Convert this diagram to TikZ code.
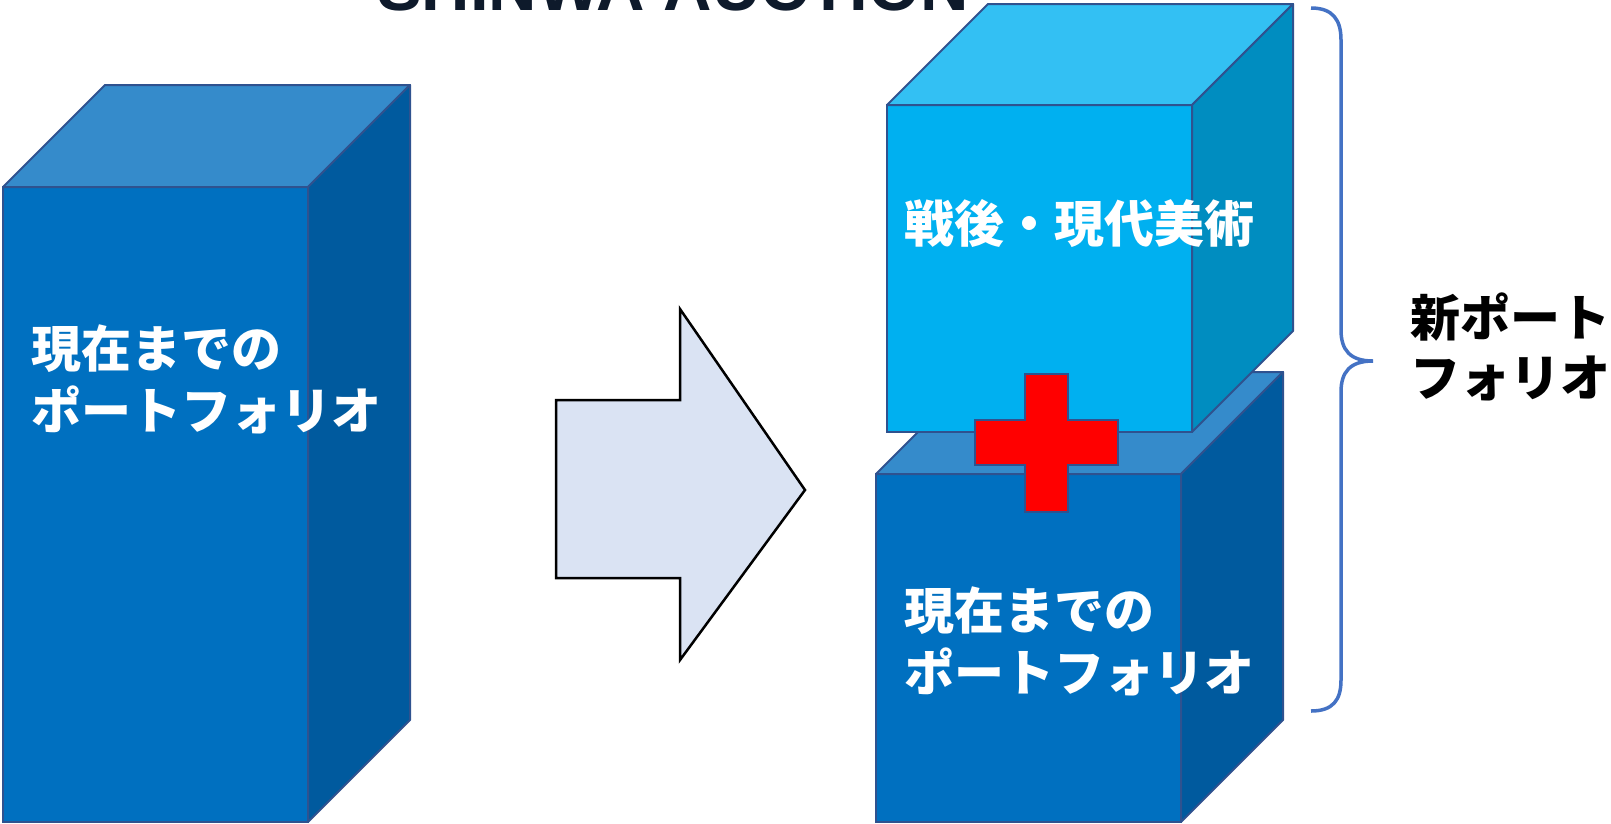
\documentclass[tikz,border=0pt]{standalone}
\usepackage{fontspec}
\newfontfamily\jp{Noto Sans CJK JP}
\newfontfamily\titlefont{Liberation Sans}
\definecolor{bord}{HTML}{2F528F}
\definecolor{dkfront}{HTML}{0070C0}
\definecolor{dktop}{HTML}{358BCB}
\definecolor{dkside}{HTML}{005A9E}
\definecolor{ltfront}{HTML}{00B0F0}
\definecolor{lttop}{HTML}{33C0F3}
\definecolor{ltside}{HTML}{008DC0}
\definecolor{arrowfill}{HTML}{DAE3F3}
\definecolor{bracecol}{HTML}{4472C4}
\definecolor{titlecol}{HTML}{0E1A2B}
\newcommand\mycube[8]{%
  \filldraw[fill=#6,draw=bord,line width=2pt] (#1,#2) rectangle ++(#3,#4);
  \filldraw[fill=#7,draw=bord,line width=2pt,line join=round] (#1,#2) -- ++(#5,-#5) -- ++(#3,0) -- ++(-#5,#5) -- cycle;
  \filldraw[fill=#8,draw=bord,line width=2pt,line join=round] (#1+#3,#2) -- ++(#5,-#5) -- ++(0,#4) -- ++(-#5,#5) -- cycle;
}
\tikzset{
  jptext/.style={anchor=base west,inner sep=0pt,font=\jp\bfseries\fontsize{50}{60}\selectfont},
  wtext/.style={jptext,text=white},
  btext/.style={jptext,text=black},
}
\begin{document}
\begin{tikzpicture}[x=1pt,y=-1pt]
\useasboundingbox (0,0) rectangle (1611,823);
\clip (0,0) rectangle (1611,823);
% title (cut off at top, as in the reference)
\node[anchor=base,inner sep=0pt,text=titlecol,font=\titlefont\bfseries\fontsize{67}{72}\selectfont] (title) at (673,10) {SHINWA AUCTION};
% left cube
\mycube{3}{187}{305}{635}{102}{dkfront}{dktop}{dkside}
\node[wtext] (l1) at (31,367) {現在までの};
\node[wtext] (l2) at (31,429) {ポートフォリオ};
% arrow
\filldraw[fill=arrowfill,draw=black,line width=2.5pt,line join=miter] (556,400) -- (680,400) -- (680,309) -- (805,490) -- (680,660) -- (680,578) -- (556,578) -- cycle;
% lower right cube
\mycube{876}{474}{305}{348}{102}{dkfront}{dktop}{dkside}
% upper right cube
\mycube{887}{105}{305}{327}{101}{ltfront}{lttop}{ltside}
\node[wtext] (t1) at (904,242) {戦後・現代美術};
\node[wtext] (r1) at (904,629) {現在までの};
\node[wtext] (r2) at (904,691) {ポートフォリオ};
% plus
\filldraw[fill=red,draw=bord,line width=2pt] (1025,374) -- (1068,374) -- (1068,420) -- (1118,420) -- (1118,465) -- (1068,465) -- (1068,512) -- (1025,512) -- (1025,465) -- (975,465) -- (975,420) -- (1025,420) -- cycle;
% brace
\draw[bracecol,line width=3.5pt] (1311,8) .. controls (1333,8) and (1341,20) .. (1341,40) -- (1341,330) .. controls (1341,350) and (1350,361) .. (1373,361) .. controls (1350,361) and (1341,372) .. (1341,392) -- (1341,680) .. controls (1341,700) and (1333,711) .. (1311,711);
\node[btext] (s1) at (1410,336) {新ポート};
\node[btext] (s2) at (1410,396) {フォリオ};
\end{tikzpicture}
\end{document}
